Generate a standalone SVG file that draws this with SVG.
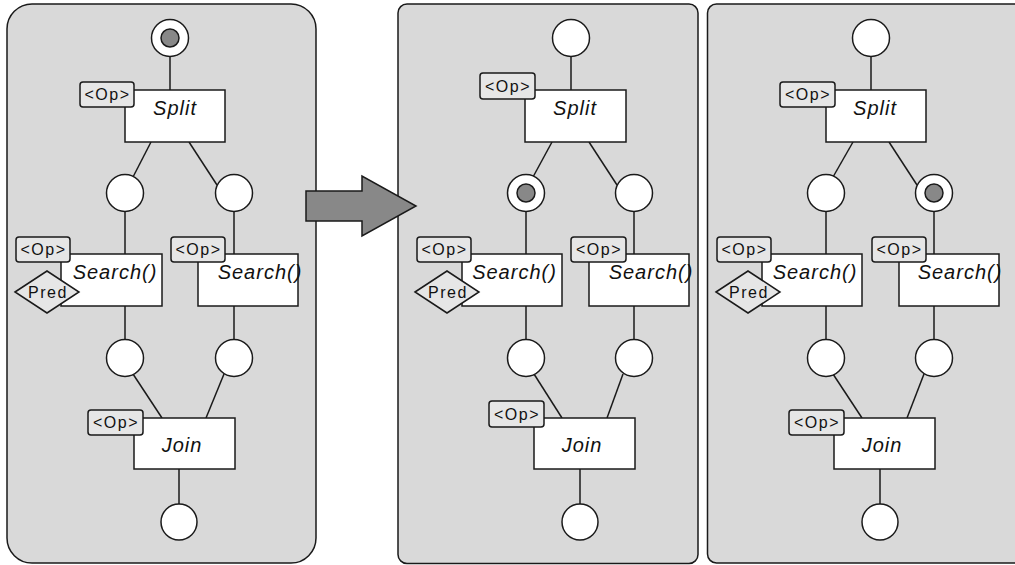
<svg xmlns="http://www.w3.org/2000/svg" width="1015" height="565" viewBox="0 0 1015 565">
<style>
.panel{fill:#d9d9d9;stroke:#1a1a1a;stroke-width:1.5}
.place{fill:#fff;stroke:#1a1a1a;stroke-width:1.5}
.token{fill:#888;stroke:#1a1a1a;stroke-width:1.5}
.box{fill:#fff;stroke:#1a1a1a;stroke-width:1.5}
.tag{fill:#e6e6e6;stroke:#1a1a1a;stroke-width:1.5}
.edge{stroke:#1a1a1a;stroke-width:1.5;fill:none}
.lbl{font-family:"Liberation Sans",Arial,sans-serif;font-style:italic;font-size:20px;letter-spacing:1px;fill:#111;text-anchor:middle}
.tt{font-family:"Liberation Sans",Arial,sans-serif;font-size:16px;letter-spacing:1.5px;fill:#111;text-anchor:middle}
.arrow{fill:#888;stroke:#1a1a1a;stroke-width:1.5}
</style>
<rect width="1015" height="565" fill="#fff"/>
<!-- panels -->
<rect id="panel1" class="panel" x="7" y="4" width="309" height="559" rx="25"/>
<rect id="panel2" class="panel" x="398" y="4" width="300" height="559.5" rx="9"/>
<rect id="panel3" class="panel" x="707.5" y="4" width="320" height="559" rx="9"/>

<g id="connectors">
<!-- panel 1 -->
<line class="edge" x1="170" y1="56" x2="170" y2="90"/>
<line class="edge" x1="151" y1="142" x2="133" y2="177"/>
<line class="edge" x1="189" y1="142" x2="217" y2="185"/>
<line class="edge" x1="125" y1="212" x2="125" y2="254"/>
<line class="edge" x1="234" y1="212" x2="234" y2="254"/>
<line class="edge" x1="125" y1="306" x2="125" y2="339"/>
<line class="edge" x1="234" y1="306" x2="234" y2="339"/>
<line class="edge" x1="133" y1="374" x2="162" y2="418"/>
<line class="edge" x1="224" y1="374" x2="206" y2="418"/>
<line class="edge" x1="179" y1="469" x2="179" y2="504"/>
<!-- panel 2 -->
<line class="edge" x1="571" y1="56" x2="571" y2="90"/>
<line class="edge" x1="552" y1="142" x2="533" y2="177"/>
<line class="edge" x1="589" y1="142" x2="617" y2="185"/>
<line class="edge" x1="526" y1="212" x2="526" y2="254"/>
<line class="edge" x1="634" y1="212" x2="634" y2="254"/>
<line class="edge" x1="526" y1="306" x2="526" y2="339"/>
<line class="edge" x1="634" y1="306" x2="634" y2="339"/>
<line class="edge" x1="534" y1="374" x2="562" y2="418"/>
<line class="edge" x1="623" y1="374" x2="607" y2="418"/>
<line class="edge" x1="580" y1="469" x2="580" y2="504"/>
<!-- panel 3 -->
<line class="edge" x1="871" y1="56" x2="871" y2="90"/>
<line class="edge" x1="853" y1="142" x2="833" y2="177"/>
<line class="edge" x1="889" y1="142" x2="917" y2="185"/>
<line class="edge" x1="826" y1="212" x2="826" y2="254"/>
<line class="edge" x1="934" y1="212" x2="934" y2="254"/>
<line class="edge" x1="826" y1="306" x2="826" y2="339"/>
<line class="edge" x1="934" y1="306" x2="934" y2="339"/>
<line class="edge" x1="833" y1="374" x2="862" y2="418"/>
<line class="edge" x1="924" y1="374" x2="907" y2="418"/>
<line class="edge" x1="880" y1="469" x2="880" y2="504"/>
</g>

<!-- ===== Panel 1 ===== -->
<g id="p1-start"><circle class="place" cx="170" cy="38" r="18.5"/><circle class="token" cx="170" cy="38" r="9"/></g>
<g id="p1-split"><rect class="box" x="125" y="90" width="100" height="52"/><text class="lbl" x="175" y="115">Split</text><rect class="tag" x="80" y="82" width="54" height="25" rx="3"/><text class="tt" x="107.5" y="100">&lt;Op&gt;</text></g>
<g id="p1-pl1"><circle class="place" cx="125" cy="193" r="18.5"/></g>
<g id="p1-pr1"><circle class="place" cx="234" cy="193" r="18.5"/></g>
<g id="p1-searchL"><rect class="box" x="61" y="254" width="101" height="52"/><text class="lbl" x="115" y="279">Search()</text><rect class="tag" x="16" y="237" width="54" height="25" rx="3"/><text class="tt" x="43.5" y="255">&lt;Op&gt;</text><polygon class="tag" points="15,292 47,271 79,292 47,313"/><text class="tt" x="48" y="298">Pred</text></g>
<g id="p1-searchR"><rect class="box" x="198" y="254" width="100" height="52"/><text class="lbl" x="260" y="279">Search()</text><rect class="tag" x="171" y="237" width="54" height="25" rx="3"/><text class="tt" x="198.5" y="255">&lt;Op&gt;</text></g>
<g id="p1-pl2"><circle class="place" cx="125" cy="358" r="18.5"/></g>
<g id="p1-pr2"><circle class="place" cx="234" cy="358" r="18.5"/></g>
<g id="p1-join"><rect class="box" x="134" y="418" width="101" height="51"/><text class="lbl" x="182" y="452">Join</text><rect class="tag" x="88" y="410" width="55" height="25" rx="3"/><text class="tt" x="116" y="428">&lt;Op&gt;</text></g>
<g id="p1-end"><circle class="place" cx="179" cy="522" r="18"/></g>

<!-- ===== Panel 2 ===== -->
<g id="p2-start"><circle class="place" cx="571" cy="38" r="18.5"/></g>
<g id="p2-split"><rect class="box" x="525" y="90" width="101" height="52"/><text class="lbl" x="575" y="115">Split</text><rect class="tag" x="480" y="73" width="55" height="26" rx="3"/><text class="tt" x="508" y="92">&lt;Op&gt;</text></g>
<g id="p2-pl1"><circle class="place" cx="526" cy="193" r="18.5"/><circle class="token" cx="526" cy="193" r="9"/></g>
<g id="p2-pr1"><circle class="place" cx="634" cy="193" r="18.5"/></g>
<g id="p2-searchL"><rect class="box" x="462" y="254" width="100" height="52"/><text class="lbl" x="514.5" y="279">Search()</text><rect class="tag" x="417" y="237" width="54" height="25" rx="3"/><text class="tt" x="444.5" y="255">&lt;Op&gt;</text><polygon class="tag" points="415,292 447,271 479,292 447,313"/><text class="tt" x="448" y="298">Pred</text></g>
<g id="p2-searchR"><rect class="box" x="589" y="254" width="100" height="52"/><text class="lbl" x="651" y="279">Search()</text><rect class="tag" x="571" y="237" width="55" height="25" rx="3"/><text class="tt" x="599" y="255">&lt;Op&gt;</text></g>
<g id="p2-pl2"><circle class="place" cx="526" cy="358" r="18.5"/></g>
<g id="p2-pr2"><circle class="place" cx="634" cy="358" r="18.5"/></g>
<g id="p2-join"><rect class="box" x="534" y="418" width="101" height="51"/><text class="lbl" x="582" y="452">Join</text><rect class="tag" x="489" y="401" width="55" height="26" rx="3"/><text class="tt" x="517" y="420">&lt;Op&gt;</text></g>
<g id="p2-end"><circle class="place" cx="580" cy="522" r="18"/></g>

<!-- ===== Panel 3 ===== -->
<g id="p3-start"><circle class="place" cx="871" cy="38" r="18.5"/></g>
<g id="p3-split"><rect class="box" x="826" y="90" width="100" height="52"/><text class="lbl" x="875" y="115">Split</text><rect class="tag" x="780" y="82" width="55" height="25" rx="3"/><text class="tt" x="808" y="100">&lt;Op&gt;</text></g>
<g id="p3-pl1"><circle class="place" cx="826" cy="193" r="18.5"/></g>
<g id="p3-pr1"><circle class="place" cx="934" cy="193" r="18.5"/><circle class="token" cx="934" cy="193" r="9"/></g>
<g id="p3-searchL"><rect class="box" x="762" y="254" width="100" height="52"/><text class="lbl" x="815" y="279">Search()</text><rect class="tag" x="717" y="237" width="54" height="25" rx="3"/><text class="tt" x="744.5" y="255">&lt;Op&gt;</text><polygon class="tag" points="716,292 748,271 780,292 748,313"/><text class="tt" x="749" y="298">Pred</text></g>
<g id="p3-searchR"><rect class="box" x="899" y="254" width="100" height="52"/><text class="lbl" x="960" y="279">Search()</text><rect class="tag" x="872" y="237" width="54" height="25" rx="3"/><text class="tt" x="899.5" y="255">&lt;Op&gt;</text></g>
<g id="p3-pl2"><circle class="place" cx="826" cy="358" r="18.5"/></g>
<g id="p3-pr2"><circle class="place" cx="934" cy="358" r="18.5"/></g>
<g id="p3-join"><rect class="box" x="834" y="418" width="101" height="51"/><text class="lbl" x="882" y="452">Join</text><rect class="tag" x="789" y="410" width="55" height="25" rx="3"/><text class="tt" x="817" y="428">&lt;Op&gt;</text></g>
<g id="p3-end"><circle class="place" cx="880" cy="522" r="18"/></g>

<!-- transition arrow -->
<g id="big-arrow"><polygon class="arrow" points="306,191 362,191 362,176 416,206 362,236 362,221 306,221"/></g>
</svg>
